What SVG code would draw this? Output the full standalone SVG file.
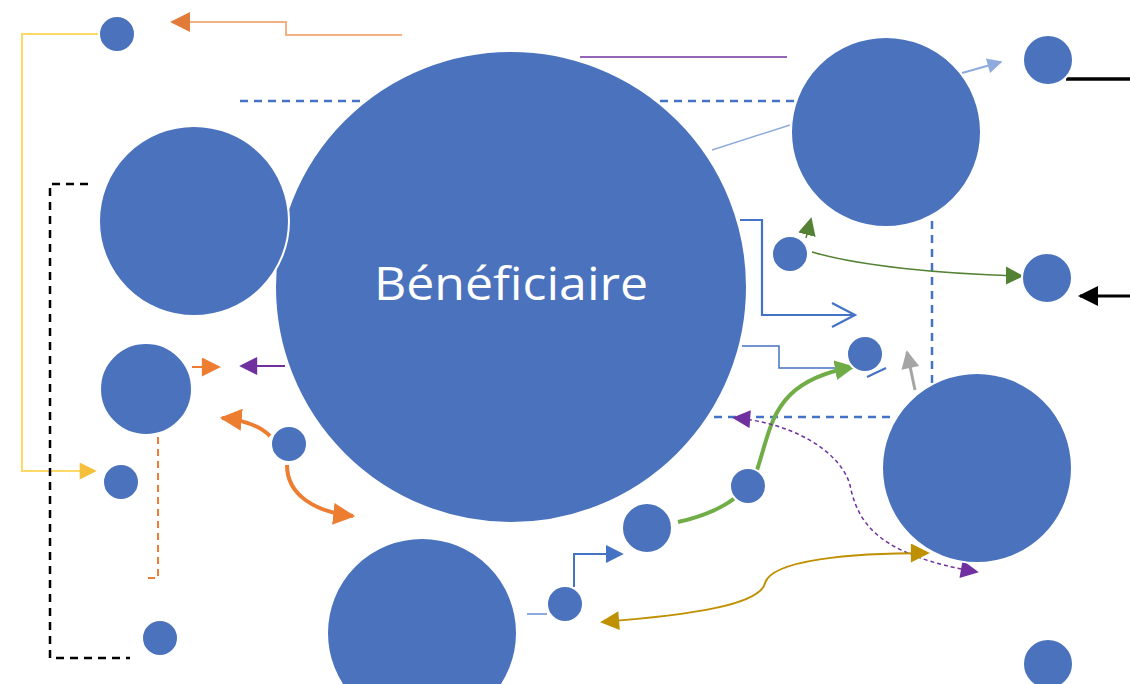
<svg xmlns="http://www.w3.org/2000/svg" width="1130" height="684" viewBox="0 0 1130 684">
<style>
  .n { fill:#4A72BD; stroke:#ffffff; stroke-width:2; }
  .c { fill:none; }
  .lbl { font-family:"Open Sans","Liberation Sans",sans-serif; font-size:46px; fill:#ffffff; }
</style>
<defs>
  <marker id="mOrange" viewBox="0 0 10 10" refX="9" refY="5" markerUnits="userSpaceOnUse" markerWidth="20" markerHeight="20" orient="auto-start-reverse"><path d="M0,0 L10,5 L0,10 z" fill="#E07B39"/></marker>
  <marker id="mOrangeS" viewBox="0 0 10 10" refX="9" refY="5" markerUnits="userSpaceOnUse" markerWidth="20" markerHeight="19" orient="auto-start-reverse"><path d="M0,0 L10,5 L0,10 z" fill="#ED7D31"/></marker>
  <marker id="mOrangeB" viewBox="0 0 10 10" refX="9" refY="5" markerUnits="userSpaceOnUse" markerWidth="22" markerHeight="22" orient="auto-start-reverse"><path d="M0,0 L10,5 L0,10 z" fill="#ED7D31"/></marker>
  <marker id="mYellow" viewBox="0 0 10 10" refX="9" refY="5" markerUnits="userSpaceOnUse" markerWidth="19" markerHeight="17" orient="auto-start-reverse"><path d="M0,0 L10,5 L0,10 z" fill="#F5BF3A"/></marker>
  <marker id="mLBlue" viewBox="0 0 10 10" refX="9" refY="5" markerUnits="userSpaceOnUse" markerWidth="17" markerHeight="15" orient="auto-start-reverse"><path d="M0,0 L10,5 L0,10 z" fill="#8FAADC"/></marker>
  <marker id="mBlack" viewBox="0 0 10 10" refX="9" refY="5" markerUnits="userSpaceOnUse" markerWidth="21" markerHeight="20" orient="auto-start-reverse"><path d="M0,0 L10,5 L0,10 z" fill="#000000"/></marker>
  <marker id="mGreenD" viewBox="0 0 10 10" refX="9" refY="5" markerUnits="userSpaceOnUse" markerWidth="18" markerHeight="19" orient="auto-start-reverse"><path d="M0,0 L10,5 L0,10 z" fill="#548235"/></marker>
  <marker id="mGreen" viewBox="0 0 10 10" refX="9" refY="5" markerUnits="userSpaceOnUse" markerWidth="20" markerHeight="20" orient="auto-start-reverse"><path d="M0,0 L10,5 L0,10 z" fill="#70AD47"/></marker>
  <marker id="mGray" viewBox="0 0 10 10" refX="9" refY="5" markerUnits="userSpaceOnUse" markerWidth="20" markerHeight="18" orient="auto-start-reverse"><path d="M0,0 L10,5 L0,10 z" fill="#A5A5A5"/></marker>
  <marker id="mPurple" viewBox="0 0 10 10" refX="9" refY="5" markerUnits="userSpaceOnUse" markerWidth="20" markerHeight="18" orient="auto-start-reverse"><path d="M0,0 L10,5 L0,10 z" fill="#7030A0"/></marker>
  <marker id="mGold" viewBox="0 0 10 10" refX="9" refY="5" markerUnits="userSpaceOnUse" markerWidth="20" markerHeight="19" orient="auto-start-reverse"><path d="M0,0 L10,5 L0,10 z" fill="#BF9000"/></marker>
  <marker id="mBlue" viewBox="0 0 10 10" refX="9" refY="5" markerUnits="userSpaceOnUse" markerWidth="18" markerHeight="18" orient="auto-start-reverse"><path d="M0,0 L10,5 L0,10 z" fill="#4472C4"/></marker>
</defs>
<rect x="0" y="0" width="1130" height="684" fill="#ffffff"/>

<g id="connectors">
  <path class="c" d="M402,35 H286 V22 H172" stroke="#F4B183" stroke-width="2" marker-end="url(#mOrange)"/>
  <path class="c" d="M100,34 H22 V471 H95" stroke="#FFD966" stroke-width="2" marker-end="url(#mYellow)"/>
  <path class="c" d="M580,57 H787" stroke="#7030A0" stroke-width="1.5"/>
  <path class="c" d="M240,101 H932 V417 H600" stroke="#4472C4" stroke-width="2.5" stroke-dasharray="8 6"/>
  <path class="c" d="M712,150 L790,125" stroke="#8FAADC" stroke-width="1.5"/>
  <path class="c" d="M962,73 L1001,62" stroke="#8FAADC" stroke-width="2" marker-end="url(#mLBlue)"/>
  <path class="c" d="M1066,79 H1130" stroke="#000000" stroke-width="3.5"/>
  <path class="c" d="M1130,296 H1080" stroke="#000000" stroke-width="3" marker-end="url(#mBlack)"/>
  <path class="c" d="M740,220 H762 V315 H854" stroke="#4472C4" stroke-width="2.2"/>
  <polyline class="c" points="832,303 855,315 832,327" stroke="#4472C4" stroke-width="2.2"/>
  <path class="c" d="M742,346 H779 V368 H848" stroke="#4472C4" stroke-width="1.5"/>
  <path class="c" d="M867,377 L886,368" stroke="#4472C4" stroke-width="2"/>
  <path class="c" d="M915,390 L907,352" stroke="#A5A5A5" stroke-width="3" marker-end="url(#mGray)"/>
  <path class="c" d="M811,219 L806,238 M812,252 C860,266 940,274 1022,276" stroke="#548235" stroke-width="1.5" marker-start="url(#mGreenD)" marker-end="url(#mGreenD)"/>
  <path class="c" d="M678,522 C710,515 745,500 757,470 C767,440 770,415 790,395 C805,380 825,372 853,367" stroke="#70AD47" stroke-width="4" marker-end="url(#mGreen)"/>
  <path class="c" d="M734,418 C790,422 840,450 850,485 C858,525 880,555 977,572" stroke="#7030A0" stroke-width="1.5" stroke-dasharray="4 3" marker-start="url(#mPurple)" marker-end="url(#mPurple)"/>
  <path class="c" d="M602,622 C690,615 760,605 765,583 C772,560 850,553 928,553" stroke="#BF9000" stroke-width="2" marker-start="url(#mGold)" marker-end="url(#mGold)"/>
  <path class="c" d="M574,587 V554 H622" stroke="#4472C4" stroke-width="2" marker-end="url(#mBlue)"/>
  <path class="c" d="M527,614 H547" stroke="#8FAADC" stroke-width="2"/>
  <path class="c" d="M270,436 Q255,421 222,418" stroke="#ED7D31" stroke-width="4" marker-end="url(#mOrangeB)"/>
  <path class="c" d="M287,465 C287,495 315,512 353,516" stroke="#ED7D31" stroke-width="4" marker-end="url(#mOrangeB)"/>
  <path class="c" d="M192,367 H219" stroke="#ED7D31" stroke-width="2" marker-end="url(#mOrangeS)"/>
  <path class="c" d="M285,366 H241" stroke="#7030A0" stroke-width="2" marker-end="url(#mPurple)"/>
  <path class="c" d="M158,437 V578 H143" stroke="#ED7D31" stroke-width="2" stroke-dasharray="7 5"/>
  <path class="c" d="M88,184 H50 V658 H130" stroke="#000000" stroke-width="2.5" stroke-dasharray="8 6"/>
</g>

<g id="beneficiaire">
  <circle class="n" cx="511" cy="287" r="236"/>
  <text class="lbl" x="511" y="300" text-anchor="middle" textLength="274" lengthAdjust="spacingAndGlyphs">Bénéficiaire</text>
</g>
<g id="n-left-big"><circle class="n" cx="194" cy="221" r="95"/></g>
<g id="n-topleft-small"><circle class="n" cx="117" cy="34" r="18"/></g>
<g id="n-topright-big"><circle class="n" cx="886" cy="132" r="95"/></g>
<g id="n-topright-small"><circle class="n" cx="1048" cy="60" r="25"/></g>
<g id="n-green-small"><circle class="n" cx="790" cy="254" r="18"/></g>
<g id="n-right-mid"><circle class="n" cx="1047" cy="278" r="25"/></g>
<g id="n-mid-small"><circle class="n" cx="865" cy="354" r="18"/></g>
<g id="n-right-big"><circle class="n" cx="977" cy="468" r="95"/></g>
<g id="n-left-med"><circle class="n" cx="146" cy="389" r="46"/></g>
<g id="n-orange-small"><circle class="n" cx="289" cy="444" r="18"/></g>
<g id="n-left-small"><circle class="n" cx="121" cy="482" r="18"/></g>
<g id="n-bottomleft-small"><circle class="n" cx="160" cy="638" r="18"/></g>
<g id="n-bottom-big"><circle class="n" cx="422" cy="633" r="95"/></g>
<g id="n-bottom-small"><circle class="n" cx="565" cy="604" r="18"/></g>
<g id="n-bottom-med"><circle class="n" cx="647" cy="528" r="25"/></g>
<g id="n-green-mid"><circle class="n" cx="748" cy="486" r="18"/></g>
<g id="n-bottomright-small"><circle class="n" cx="1048" cy="664" r="25"/></g>
</svg>
